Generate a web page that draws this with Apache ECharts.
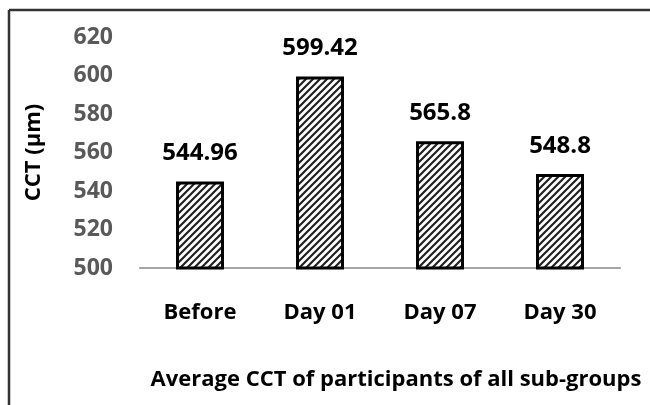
<!DOCTYPE html>
<html><head><meta charset="utf-8">
<script src="https://cdn.jsdelivr.net/npm/echarts@6/dist/echarts.min.js"></script>
<style>html,body{margin:0;padding:0;background:#fff}#c{width:650px;height:405px}</style>
</head><body><div id="c"></div>
<script>
var categories = ['Before', 'Day 01', 'Day 07', 'Day 30'];
var values = [544.96, 599.42, 565.8, 548.8];
var yTicks = [500, 520, 540, 560, 580, 600, 620];
var xTitle = 'Average CCT of participants of all sub-groups';
var yTitle = 'CCT (µm)';

var pc = document.createElement('canvas');
var s = 7;
pc.width = s; pc.height = s;
var g = pc.getContext('2d');
g.fillStyle = '#fff'; g.fillRect(0, 0, s, s);
g.strokeStyle = '#222'; g.lineWidth = 2.2;
g.beginPath();
g.moveTo(-1, s + 1); g.lineTo(s + 1, -1);
g.moveTo(-1, 1); g.lineTo(1, -1);
g.moveTo(s - 1, s + 1); g.lineTo(s + 1, s - 1);
g.stroke();

var font = "'Open Sans', sans-serif";
var chart = echarts.init(document.getElementById('c'));
chart.setOption({
  animation: false,
  grid: { left: 140, right: 30, top: 37, bottom: 137 },
  xAxis: {
    type: 'category', data: categories,
    axisLine: { lineStyle: { color: '#a6a6a6', width: 2 } },
    axisTick: { show: false },
    axisLabel: { color: '#000', fontWeight: 'bold', fontSize: 22, fontFamily: font, margin: 34 },
    name: xTitle, nameLocation: 'middle', nameGap: 101,
    nameTextStyle: { color: '#000', fontWeight: 'bold', fontSize: 22, fontFamily: font, padding: [0, 0, 0, 32] }
  },
  yAxis: {
    type: 'value', min: yTicks[0], max: yTicks[yTicks.length - 1], interval: 20,
    axisLine: { show: false }, axisTick: { show: false }, splitLine: { show: false },
    axisLabel: { color: '#595959', fontWeight: 'bold', fontSize: 23, fontFamily: font, margin: 27 },
    name: yTitle, nameLocation: 'middle', nameGap: 95, nameRotate: 90,
    nameTextStyle: { color: '#000', fontWeight: 'bold', fontSize: 22, fontFamily: font }
  },
  series: [{
    type: 'bar', data: values, barWidth: 48,
    itemStyle: { color: { image: pc, repeat: 'repeat' }, borderColor: '#000', borderWidth: 3 },
    label: { show: true, position: 'top', distance: 16, color: '#000', fontWeight: 'bold', fontSize: 24, fontFamily: font }
  }],
  graphic: [
    { type: 'line', shape: { x1: 9, y1: 10, x2: 650, y2: 10 }, style: { stroke: '#333', lineWidth: 2.5 } },
    { type: 'line', shape: { x1: 9, y1: 10, x2: 9, y2: 405 }, style: { stroke: '#333', lineWidth: 2.5 } }
  ]
});
</script></body></html>
